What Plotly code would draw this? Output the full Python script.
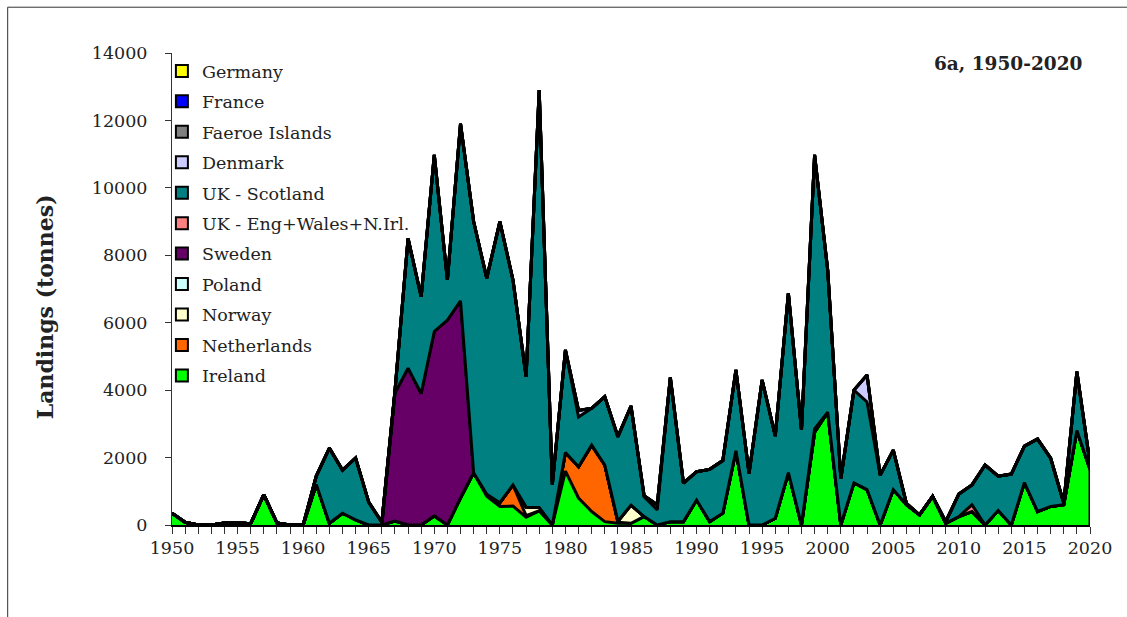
import plotly.graph_objects as go

years = list(range(1950, 2021))

ireland = [350, 80, 0, 0, 60, 70, 40, 900, 60, 0,
           0, 1200, 50, 350, 150, 0, 0, 120, 0, 0,
           270, 0, 800, 1550, 850, 550, 560, 230, 420, 0,
           1600, 800, 400, 100, 50, 50, 250, 0, 100, 100,
           740, 100, 350, 2200, 0, 0, 200, 1550, 0, 2750,
           3350, 0, 1250, 1050, 0, 1050, 600, 300, 850, 50,
           250, 400, 0, 430, 0, 1260, 400, 550, 600, 2800,
           1650]

netherlands = [0] * 24 + [60, 110, 630, 50, 0, 0,
                          550, 930, 1970, 1680, 30] + [0] * 36

norway = [0] * 27 + [250, 100] + [0] * 5 + [30, 540] + [0] * 35

poland = [0] * 71

sweden = [0] * 17 + [3800, 4650, 3900, 5470, 6080, 5850] + [0] * 48

uk_ewni = [0] * 71
uk_ewni[1999 - 1950] = 100
uk_ewni[2011 - 1950] = 200

scotland = [0, 0, 0, 0, 0, 0, 0, 0, 0, 0,
            0, 250, 2230, 1280, 1840, 680, 80, 50, 3850, 2870,
            5240, 1190, 5250, 7450, 6410, 8340, 6080, 3870, 12380, 1200,
            3040, 1470, 1090, 2030, 2510, 2940, 590, 450, 4280, 1140,
            840, 1550, 1560, 2400, 1530, 4300, 2440, 5330, 2820, 8130,
            4210, 1380, 2750, 2600, 1480, 1170, 40, 0, 0, 50,
            670, 590, 1780, 1020, 1510, 1080, 2150, 1430, 50, 1750,
            180]

denmark = [0] * 71
denmark[1981 - 1950] = 200
denmark[1986 - 1950] = 30
denmark[1987 - 1950] = 150
denmark[2003 - 1950] = 800

faeroe = [0] * 71
france = [0] * 71
germany = [0] * 71

# stacking order, bottom to top
series = [
    ("Ireland", ireland, "#00FF00"),
    ("Netherlands", netherlands, "#FF6600"),
    ("Norway", norway, "#FFFFCC"),
    ("Poland", poland, "#CCFFFF"),
    ("Sweden", sweden, "#660066"),
    ("UK - Eng+Wales+N.Irl.", uk_ewni, "#FF8080"),
    ("UK - Scotland", scotland, "#008080"),
    ("Denmark", denmark, "#CCCCFF"),
    ("Faeroe Islands", faeroe, "#808080"),
    ("France", france, "#0000FF"),
    ("Germany", germany, "#FFFF00"),
]

SERIF = "DejaVu Serif"
INK = "#222222"

fig = go.Figure()

for name, vals, col in series:
    fig.add_trace(go.Scatter(
        x=years, y=vals, name=name, stackgroup="catch", mode="lines",
        line=dict(color="black", width=3), fillcolor=col,
        showlegend=False, hoverinfo="x+y+name",
    ))

# closing edge of the stacked polygon at the last year
total_last = sum(vals[-1] for _, vals, _ in series)
fig.add_trace(go.Scatter(
    x=[years[-1], years[-1]], y=[0, total_last], mode="lines",
    line=dict(color="black", width=3), showlegend=False, hoverinfo="skip",
))

# square legend keys, top of the stack listed first
for i, (name, vals, col) in enumerate(reversed(series)):
    fig.add_trace(go.Scatter(
        x=[None], y=[None], name=name, mode="markers",
        marker=dict(symbol="square", size=13, color=col,
                    line=dict(color="black", width=2)),
        legendgroup=f"g{i:02d}", showlegend=True,
    ))

fig.update_layout(
    width=1127, height=617,
    margin=dict(l=172, r=37, t=53, b=92),
    paper_bgcolor="white", plot_bgcolor="white",
    font=dict(family=SERIF, color=INK, size=18),
    legend=dict(
        x=-0.011, y=1.0, xanchor="left", yanchor="top",
        bgcolor="rgba(0,0,0,0)", borderwidth=0,
        traceorder="grouped", tracegroupgap=4.7,
        font=dict(family=SERIF, size=17.5, color=INK),
        itemsizing="constant",
    ),
    xaxis=dict(
        range=[1950, 2020], tick0=1950, dtick=5,
        showgrid=False, zeroline=False,
        showline=True, linecolor="black", linewidth=2,
        ticks="outside", ticklen=7, tickcolor="#333333", tickwidth=1,
        tickfont=dict(family=SERIF, size=17.5, color=INK),
        ticklabelstandoff=-1,
        minor=dict(dtick=1, ticks="outside", ticklen=7,
                   tickcolor="#333333", tickwidth=1, showgrid=False),
    ),
    yaxis=dict(
        range=[0, 14000], dtick=2000, tickformat="d",
        showgrid=False, zeroline=False,
        showline=True, linecolor="#333333", linewidth=1,
        ticks="outside", ticklen=6, tickcolor="#333333",
        tickfont=dict(family=SERIF, size=17.5, color=INK),
        ticklabelstandoff=14,
    ),
    annotations=[
        dict(
            text="<b>Landings (tonnes)</b>", xref="paper", yref="paper",
            x=-0.138, y=0.462, xanchor="center", yanchor="middle",
            textangle=-90, showarrow=False,
            font=dict(family=SERIF, size=22, color=INK),
        ),
        dict(
            text="<b>6a, 1950-2020</b>", xref="paper", yref="paper",
            x=0.993, y=1.005, xanchor="right", yanchor="top", showarrow=False,
            font=dict(family=SERIF, size=18.5, color=INK),
        ),
    ],
    shapes=[dict(
        type="rect", xref="paper", yref="paper",
        x0=-0.179, x1=1.2, y0=-0.5, y1=1.097,
        line=dict(color="#333333", width=1), fillcolor="rgba(0,0,0,0)",
        layer="below",
    )],
)

fig.write_html("out.html")
